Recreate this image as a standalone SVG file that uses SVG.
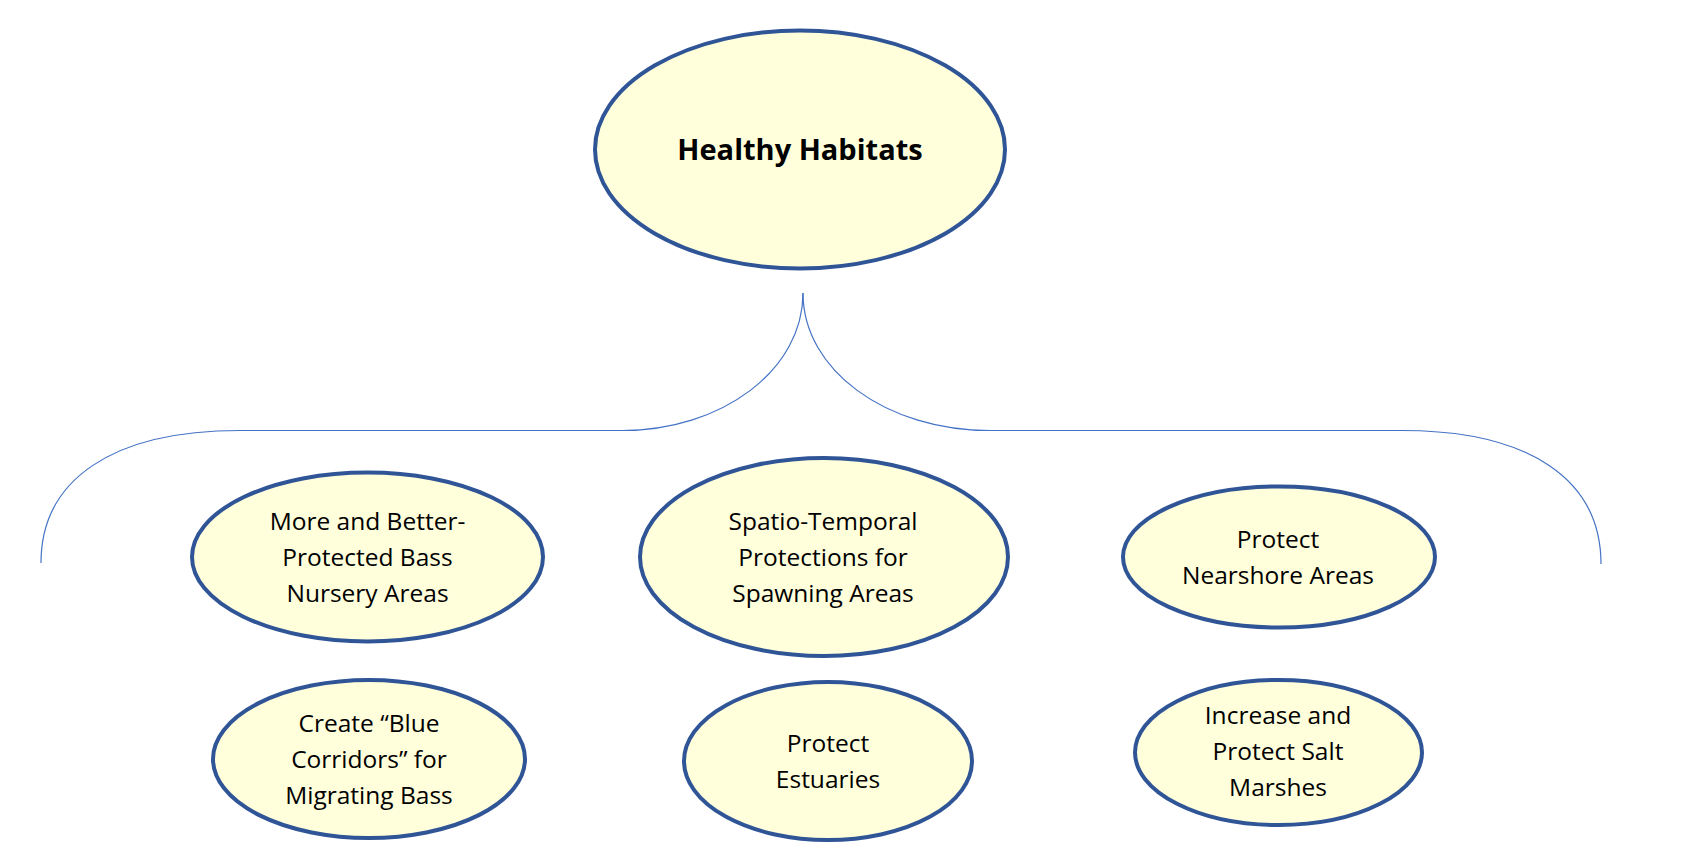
<svg xmlns="http://www.w3.org/2000/svg" width="1687" height="861" viewBox="0 0 1687 861">
  <style>
    .node ellipse { fill: #FFFFDC; stroke: #2F5597; stroke-width: 4; }
    .node text { font-family: "Open Sans", "Liberation Sans", sans-serif; font-size: 24.5px; fill: #000000; text-anchor: middle; }
    .node text.title { font-size: 29px; font-weight: bold; }
    .connectors path { fill: none; stroke: #4472C4; stroke-width: 1.2; }
  </style>
  <rect x="0" y="0" width="1687" height="861" fill="#FFFFFF"/>

  <g id="connectors" class="connectors">
    <path d="M 803 293 C 803 370, 722 430.5, 622 430.5 L 240 430.5 C 112 430.5, 41 480, 41 563"/>
    <path d="M 803 293 C 803 370, 886 430.5, 990 430.5 L 1402 430.5 C 1530 430.5, 1601 480, 1601 564"/>
  </g>

  <g id="node-healthy-habitats" class="node">
    <ellipse cx="800" cy="149.5" rx="205" ry="119"/>
    <text class="title" x="800" y="160">Healthy Habitats</text>
  </g>

  <g id="node-nursery" class="node">
    <ellipse cx="367.5" cy="557" rx="175.5" ry="84.5"/>
    <text x="367.5" y="530">More and Better-</text>
    <text x="367.5" y="566">Protected Bass</text>
    <text x="367.5" y="602">Nursery Areas</text>
  </g>

  <g id="node-spawning" class="node">
    <ellipse cx="824" cy="557" rx="184" ry="99"/>
    <text x="823" y="530">Spatio-Temporal</text>
    <text x="823" y="566">Protections for</text>
    <text x="823" y="602">Spawning Areas</text>
  </g>

  <g id="node-nearshore" class="node">
    <ellipse cx="1279" cy="557" rx="156" ry="70.5"/>
    <text x="1278" y="548">Protect</text>
    <text x="1278" y="584">Nearshore Areas</text>
  </g>

  <g id="node-blue-corridors" class="node">
    <ellipse cx="369" cy="759" rx="156" ry="79"/>
    <text x="369" y="732">Create “Blue</text>
    <text x="369" y="768">Corridors” for</text>
    <text x="369" y="804">Migrating Bass</text>
  </g>

  <g id="node-estuaries" class="node">
    <ellipse cx="828" cy="761" rx="144" ry="79"/>
    <text x="828" y="752">Protect</text>
    <text x="828" y="788">Estuaries</text>
  </g>

  <g id="node-salt-marshes" class="node">
    <ellipse cx="1278.5" cy="752.5" rx="143.5" ry="72.5"/>
    <text x="1278" y="724">Increase and</text>
    <text x="1278" y="760">Protect Salt</text>
    <text x="1278" y="796">Marshes</text>
  </g>
</svg>
